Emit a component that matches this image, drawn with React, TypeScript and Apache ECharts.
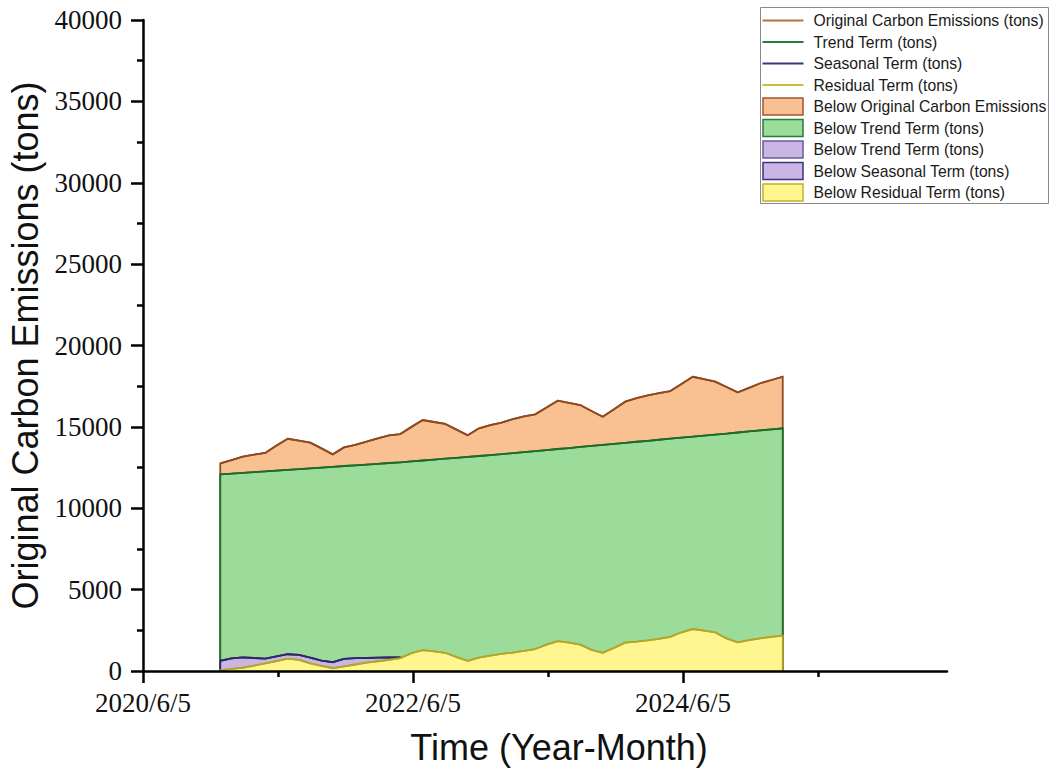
import React, { useEffect, useRef } from "react";
import * as echarts from "echarts";

const months = [
  "2021-01", "2021-02", "2021-03", "2021-04", "2021-05", "2021-06", "2021-07", "2021-08", "2021-09", "2021-10", "2021-11", "2021-12",
  "2022-01", "2022-02", "2022-03", "2022-04", "2022-05", "2022-06", "2022-07", "2022-08", "2022-09", "2022-10", "2022-11", "2022-12",
  "2023-01", "2023-02", "2023-03", "2023-04", "2023-05", "2023-06", "2023-07", "2023-08", "2023-09", "2023-10", "2023-11", "2023-12",
  "2024-01", "2024-02", "2024-03", "2024-04", "2024-05", "2024-06", "2024-07", "2024-08", "2024-09", "2024-10", "2024-11", "2024-12",
  "2025-01", "2025-02", "2025-03",
];

const originalEmissions = [
  12760, 12960, 13170, 13290, 13400, 13850, 14270, 14150, 14030, 13680, 13310, 13740,
  13890, 14090, 14300, 14480, 14560, 15000, 15420, 15300, 15180, 14830, 14480, 14910,
  15110, 15260, 15470, 15650, 15770, 16190, 16610, 16480, 16340, 15980, 15620, 16080,
  16550, 16760, 16930, 17080, 17200, 17640, 18080, 17930, 17780, 17450, 17120, 17400,
  17680, 17880, 18080,
];

const trendTerm = [
  12080, 12125, 12175, 12220, 12265, 12315, 12360, 12405, 12455, 12500, 12545, 12595,
  12640, 12685, 12730, 12780, 12825, 12880, 12935, 12990, 13045, 13100, 13155, 13210,
  13265, 13320, 13385, 13450, 13510, 13575, 13640, 13700, 13765, 13830, 13895, 13955,
  14020, 14085, 14145, 14210, 14275, 14340, 14400, 14465, 14530, 14590, 14655, 14720,
  14785, 14850, 14910,
];

// seasonal term is only drawn for the first 17 months
const seasonalTerm = [
  630, 780, 840, 800, 760, 900, 1030, 990, 820, 640, 540, 740,
  790, 800, 820, 830, 840,
];

const residualTerm = [
  40, 130, 200, 330, 470, 610, 760, 680, 470, 320, 170, 290,
  400, 510, 600, 690, 790, 1100, 1280, 1210, 1120, 850, 620, 820,
  940, 1050, 1130, 1240, 1350, 1620, 1840, 1740, 1620, 1300, 1120, 1420,
  1740, 1800, 1880, 1980, 2100, 2380, 2580, 2480, 2370, 2000, 1760, 1900,
  2010, 2100, 2170,
];

const xMajorTicks = [0, 24, 48];
const xMinorTicks = [12, 36, 60];

const legendLabels = [
  "Original Carbon Emissions (tons)",
  "Trend Term (tons)",
  "Seasonal Term (tons)",
  "Residual Term (tons)",
  "Below Original Carbon Emissions",
  "Below Trend Term (tons)",
  "Below Trend Term (tons)",
  "Below Seasonal Term (tons)",
  "Below Residual Term (tons)",
];
const legendKinds = ["line", "line", "line", "line", "rect", "rect", "rect", "rect", "rect"];
const legendFills = ["", "", "", "", "#F9C192", "#9BDC9A", "#C9B6E4", "#C9B6E4", "#FFF690"];
const legendStrokes = ["#B8703F", "#2A7A3A", "#3B3775", "#CDBE3A", "#A0552A", "#2A7A3A", "#6A5A9A", "#3B3278", "#BDB22A"];

const COLORS = {
  orangeFill: "#F9C192",
  orangeStroke: "#8E4A20",
  greenFill: "#9BDC9A",
  greenStroke: "#1E6B2A",
  purpleFill: "#C9B6E4",
  purpleStroke: "#2D2966",
  yellowFill: "#FFF690",
  yellowStroke: "#B3A62A",
};

function monthOffset(s: string): number {
  const [y, m] = s.split("-").map(Number);
  return (y - 2020) * 12 + (m - 6) - 4 / 30.4;
}

function toPoints(values: number[]): number[][] {
  return values.map((v, i) => [monthOffset(months[i]), v]);
}

function areaSeries(name: string, pts: number[][], fill: string, stroke: string) {
  return {
    type: "custom",
    name,
    data: pts,
    encode: { x: 0, y: 1 },
    clip: true,
    silent: true,
    renderItem: (params: any, api: any) => {
      if (params.dataIndex !== 0) return null;
      const top = pts.map((p) => api.coord(p));
      const bl = api.coord([pts[0][0], 0]);
      const br = api.coord([pts[pts.length - 1][0], 0]);
      return {
        type: "group",
        children: [
          { type: "polygon", shape: { points: [...top, br, bl] }, style: { fill } },
          {
            type: "polyline",
            shape: { points: [bl, ...top, br] },
            style: { stroke, fill: "none", lineWidth: 1.8 },
          },
        ],
      };
    },
  };
}

function lineSeries(name: string, pts: number[][], color: string) {
  return {
    type: "line",
    name,
    data: pts,
    showSymbol: false,
    symbol: "none",
    silent: true,
    lineStyle: { color, width: 1.8 },
  };
}

function buildLegend() {
  const rowH = 21.5;
  const children: any[] = [
    {
      type: "rect",
      shape: { x: 0, y: 0, width: 288, height: 196 },
      style: { fill: "#fff", stroke: "#8a8a8a", lineWidth: 1 },
    },
  ];
  legendLabels.forEach((label, i) => {
    const cy = 13 + i * rowH;
    if (legendKinds[i] === "line") {
      children.push({
        type: "line",
        shape: { x1: 2, y1: cy, x2: 43, y2: cy },
        style: { stroke: legendStrokes[i], lineWidth: 2 },
      });
    } else {
      children.push({
        type: "rect",
        shape: { x: 2.5, y: cy - 8.5, width: 40, height: 17 },
        style: { fill: legendFills[i], stroke: legendStrokes[i], lineWidth: 1.5 },
      });
    }
    children.push({
      type: "text",
      x: 53,
      y: cy,
      style: {
        text: label,
        fill: "#1a1a1a",
        font: '15.7px "Liberation Sans", Arial, sans-serif',
        verticalAlign: "middle",
        align: "left",
      },
    });
  });
  return [{ type: "group", left: 760, top: 7, children }];
}

export default function App() {
  const ref = useRef<HTMLDivElement>(null);

  useEffect(() => {
    if (!ref.current) return;
    const chart = echarts.init(ref.current, undefined, { renderer: "svg" });

    const origPts = toPoints(originalEmissions);
    const trendPts = toPoints(trendTerm);
    const seasPts = toPoints(seasonalTerm);
    const resPts = toPoints(residualTerm);

    const serifLabel = {
      fontFamily: '"Liberation Serif", "Times New Roman", serif',
      fontSize: 27,
      color: "#111",
    };

    const option: any = {
      animation: false,
      backgroundColor: "#fff",
      grid: { left: 143, right: 103, top: 20, bottom: 101, containLabel: false, outerBoundsMode: "none" },
      xAxis: [
        {
          type: "value",
          min: 0,
          max: 71.47,
          position: "bottom",
          z: 10,
          axisLine: { show: true, onZero: false, lineStyle: { color: "#000", width: 2.5 } },
          axisTick: { show: true, customValues: xMajorTicks, length: 12, lineStyle: { color: "#000", width: 2.5 } },
          axisLabel: {
            ...serifLabel,
            customValues: xMajorTicks,
            margin: 18,
            formatter: (v: number) => `${2020 + Math.round(v / 12)}/6/5`,
          },
          splitLine: { show: false },
          name: "Time (Year-Month)",
          nameLocation: "middle",
          nameGap: 58,
          nameTextStyle: {
            fontFamily: '"Liberation Sans", Arial, sans-serif',
            fontSize: 36,
            color: "#111",
            padding: [0, 0, 0, 28],
          },
        },
        {
          type: "value",
          min: 0,
          max: 71.47,
          position: "bottom",
          z: 10,
          axisLine: { show: false },
          axisTick: { show: true, customValues: xMinorTicks, length: 6, lineStyle: { color: "#000", width: 2.5 } },
          axisLabel: { show: false },
          splitLine: { show: false },
        },
      ],
      yAxis: {
        type: "value",
        min: 0,
        max: 40000,
        interval: 5000,
        z: 10,
        axisLine: { show: true, lineStyle: { color: "#000", width: 2.5 } },
        axisTick: { show: true, length: 12, lineStyle: { color: "#000", width: 2.5 } },
        minorTick: { show: true, splitNumber: 2, length: 6, lineStyle: { color: "#000", width: 2.5 } },
        axisLabel: { ...serifLabel, margin: 21, formatter: (v: number) => String(v) },
        splitLine: { show: false },
        minorSplitLine: { show: false },
        name: "Original Carbon Emissions (tons)",
        nameLocation: "middle",
        nameRotate: 90,
        nameGap: 95,
        nameTextStyle: {
          fontFamily: '"Liberation Sans", Arial, sans-serif',
          fontSize: 36,
          color: "#111",
        },
      },
      series: [
        areaSeries("Below Original Carbon Emissions", origPts, COLORS.orangeFill, COLORS.orangeStroke),
        lineSeries("Original Carbon Emissions (tons)", origPts, COLORS.orangeStroke),
        areaSeries("Below Trend Term (tons)", trendPts, COLORS.greenFill, COLORS.greenStroke),
        lineSeries("Trend Term (tons)", trendPts, COLORS.greenStroke),
        areaSeries("Below Seasonal Term (tons)", seasPts, COLORS.purpleFill, COLORS.purpleStroke),
        lineSeries("Seasonal Term (tons)", seasPts, COLORS.purpleStroke),
        areaSeries("Below Residual Term (tons)", resPts, COLORS.yellowFill, COLORS.yellowStroke),
        lineSeries("Residual Term (tons)", resPts, COLORS.yellowStroke),
      ],
      graphic: buildLegend(),
    };

    chart.setOption(option);
    return () => chart.dispose();
  }, []);

  return (
    <div
      ref={ref}
      style={{ position: "fixed", left: 0, top: 0, width: 1050, height: 772, background: "#fff" }}
    />
  );
}
